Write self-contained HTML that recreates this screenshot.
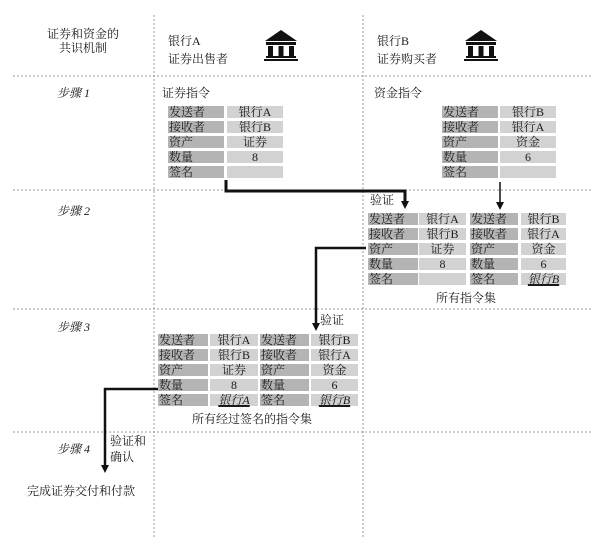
<!DOCTYPE html>
<html><head><meta charset="utf-8"><style>
body{margin:0;width:600px;height:539px;background:#fff;position:relative;overflow:hidden;font-family:"Liberation Serif","Noto Serif CJK SC",serif;color:#1a1a1a;font-size:12px}
.t{position:absolute;white-space:nowrap;line-height:14px}
.c{position:absolute;height:12px;line-height:12px;font-size:12px;white-space:nowrap;overflow:visible}
.l{background:#b4b4b4;padding-left:1px}
.v{background:#d2d2d2;text-align:center}
.u{font-style:italic;text-decoration:underline;text-decoration-thickness:2px}
.i{font-style:italic}
</style></head><body>
<svg width="600" height="539" style="position:absolute;left:0;top:0">
<g stroke="#999" stroke-width="1" stroke-dasharray="2,2">
<line x1="154" y1="15" x2="154" y2="539"/>
<line x1="363" y1="15" x2="363" y2="539"/>
<line x1="13" y1="76" x2="592" y2="76"/>
<line x1="13" y1="190" x2="592" y2="190"/>
<line x1="13" y1="309" x2="592" y2="309"/>
<line x1="13" y1="432" x2="592" y2="432"/>
</g>
<g fill="#111">
<path d="M265 41 L281 30 L297 41 Z"/><rect x="266" y="42" width="30" height="3"/>
<rect x="268" y="46" width="5" height="10"/><rect x="278.5" y="46" width="5" height="10"/><rect x="289" y="46" width="5" height="10"/>
<rect x="266" y="56" width="30" height="2"/><rect x="264" y="59" width="34" height="2"/>
<path d="M465 41 L481 30 L497 41 Z"/><rect x="466" y="42" width="30" height="3"/>
<rect x="468" y="46" width="5" height="10"/><rect x="478.5" y="46" width="5" height="10"/><rect x="489" y="46" width="5" height="10"/>
<rect x="466" y="56" width="30" height="2"/><rect x="464" y="59" width="34" height="2"/>
</g>
<g fill="none" stroke="#111">
<polyline points="226,180 226,191 405,191 405,202" stroke-width="3"/>
<line x1="500" y1="182" x2="500" y2="203" stroke-width="1.5"/>
<polyline points="366,248 316,248 316,324" stroke-width="2.5"/>
<polyline points="158,389 105,389 105,466" stroke-width="2.5"/>
</g>
<g fill="#111">
<path d="M401 201 L409 201 L405 209 Z"/>
<path d="M496 202 L504 202 L500 210 Z"/>
<path d="M312 323 L320 323 L316 331 Z"/>
<path d="M101 465 L109 465 L105 473 Z"/>
</g>
</svg>
<div class="t" style="left:44px;top:27px;text-align:center;width:78px">证券和资金的<br>共识机制</div>
<div class="t" style="left:168px;top:32px;line-height:18px">银行A<br>证券出售者</div>
<div class="t" style="left:377px;top:32px;line-height:18px">银行B<br>证券购买者</div>
<div class="t i" style="left:57px;top:86px">步骤 1</div>
<div class="t i" style="left:57px;top:204px">步骤 2</div>
<div class="t i" style="left:57px;top:320px">步骤 3</div>
<div class="t i" style="left:57px;top:442px">步骤 4</div>
<div class="t" style="left:162px;top:86px">证券指令</div>
<div class="t" style="left:374px;top:86px">资金指令</div>

<div class="c l" style="left:168px;top:106px;width:55px">发送者</div><div class="c v" style="left:227px;top:106px;width:56px">银行A</div>
<div class="c l" style="left:168px;top:121px;width:55px">接收者</div><div class="c v" style="left:227px;top:121px;width:56px">银行B</div>
<div class="c l" style="left:168px;top:136px;width:55px">资产</div><div class="c v" style="left:227px;top:136px;width:56px">证券</div>
<div class="c l" style="left:168px;top:151px;width:55px">数量</div><div class="c v" style="left:227px;top:151px;width:56px">8</div>
<div class="c l" style="left:168px;top:166px;width:55px">签名</div><div class="c v" style="left:227px;top:166px;width:56px"></div>

<div class="c l" style="left:442px;top:106px;width:55px">发送者</div><div class="c v" style="left:500px;top:106px;width:56px">银行B</div>
<div class="c l" style="left:442px;top:121px;width:55px">接收者</div><div class="c v" style="left:500px;top:121px;width:56px">银行A</div>
<div class="c l" style="left:442px;top:136px;width:55px">资产</div><div class="c v" style="left:500px;top:136px;width:56px">资金</div>
<div class="c l" style="left:442px;top:151px;width:55px">数量</div><div class="c v" style="left:500px;top:151px;width:56px">6</div>
<div class="c l" style="left:442px;top:166px;width:55px">签名</div><div class="c v" style="left:500px;top:166px;width:56px"></div>

<div class="t" style="left:370px;top:193px">验证</div>
<div class="c l" style="left:368px;top:213px;width:49px">发送者</div><div class="c v" style="left:419px;top:213px;width:47px">银行A</div><div class="c l" style="left:470px;top:213px;width:47px">发送者</div><div class="c v" style="left:521px;top:213px;width:45px">银行B</div>
<div class="c l" style="left:368px;top:228px;width:49px">接收者</div><div class="c v" style="left:419px;top:228px;width:47px">银行B</div><div class="c l" style="left:470px;top:228px;width:47px">接收者</div><div class="c v" style="left:521px;top:228px;width:45px">银行A</div>
<div class="c l" style="left:368px;top:243px;width:49px">资产</div><div class="c v" style="left:419px;top:243px;width:47px">证券</div><div class="c l" style="left:470px;top:243px;width:47px">资产</div><div class="c v" style="left:521px;top:243px;width:45px">资金</div>
<div class="c l" style="left:368px;top:258px;width:49px">数量</div><div class="c v" style="left:419px;top:258px;width:47px">8</div><div class="c l" style="left:470px;top:258px;width:47px">数量</div><div class="c v" style="left:521px;top:258px;width:45px">6</div>
<div class="c l" style="left:368px;top:273px;width:49px">签名</div><div class="c v" style="left:419px;top:273px;width:47px"></div><div class="c l" style="left:470px;top:273px;width:47px">签名</div><div class="c v u" style="left:521px;top:273px;width:45px">银行B</div>
<div class="t" style="left:436px;top:291px">所有指令集</div>

<div class="t" style="left:320px;top:313px">验证</div>
<div class="c l" style="left:158px;top:334px;width:49px">发送者</div><div class="c v" style="left:210px;top:334px;width:48px">银行A</div><div class="c l" style="left:260px;top:334px;width:48px">发送者</div><div class="c v" style="left:311px;top:334px;width:47px">银行B</div>
<div class="c l" style="left:158px;top:349px;width:49px">接收者</div><div class="c v" style="left:210px;top:349px;width:48px">银行B</div><div class="c l" style="left:260px;top:349px;width:48px">接收者</div><div class="c v" style="left:311px;top:349px;width:47px">银行A</div>
<div class="c l" style="left:158px;top:364px;width:49px">资产</div><div class="c v" style="left:210px;top:364px;width:48px">证券</div><div class="c l" style="left:260px;top:364px;width:48px">资产</div><div class="c v" style="left:311px;top:364px;width:47px">资金</div>
<div class="c l" style="left:158px;top:379px;width:49px">数量</div><div class="c v" style="left:210px;top:379px;width:48px">8</div><div class="c l" style="left:260px;top:379px;width:48px">数量</div><div class="c v" style="left:311px;top:379px;width:47px">6</div>
<div class="c l" style="left:158px;top:394px;width:49px">签名</div><div class="c v u" style="left:210px;top:394px;width:48px">银行A</div><div class="c l" style="left:260px;top:394px;width:48px">签名</div><div class="c v u" style="left:311px;top:394px;width:47px">银行B</div>
<div class="t" style="left:192px;top:412px">所有经过签名的指令集</div>

<div class="t" style="left:110px;top:433px;line-height:16px">验证和<br>确认</div>
<div class="t" style="left:27px;top:484px">完成证券交付和付款</div>
</body></html>
